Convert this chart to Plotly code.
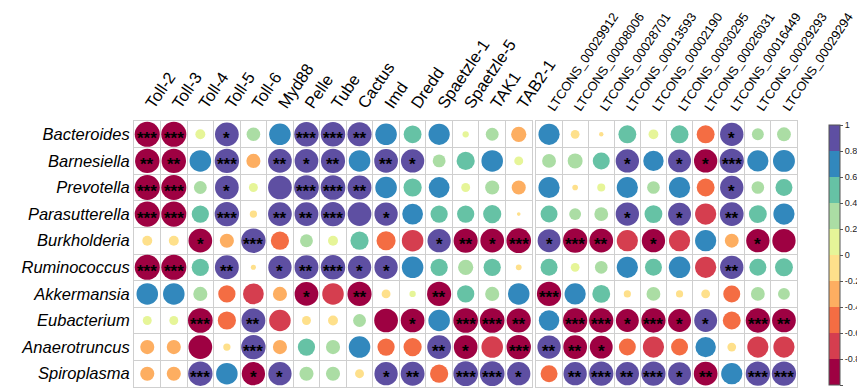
import numpy as np
import plotly.graph_objects as go

taxa = ["Bacteroides", "Barnesiella", "Prevotella", "Parasutterella", "Burkholderia",
        "Ruminococcus", "Akkermansia", "Eubacterium", "Anaerotruncus", "Spiroplasma"]
genes = ["Toll-2", "Toll-3", "Toll-4", "Toll-5", "Toll-6", "Myd88", "Pelle", "Tube",
         "Cactus", "Imd", "Dredd", "Spaetzle-1", "Spaetzle-5", "TAK1", "TAB2-1"]
lncrnas = ["LTCONS_00029912", "LTCONS_00008006", "LTCONS_00028701", "LTCONS_00013593",
           "LTCONS_00002190", "LTCONS_00030295", "LTCONS_00026031", "LTCONS_00016449",
           "LTCONS_00029293", "LTCONS_00029294"]

r_genes = [
    [-0.95, -0.95, 0.15, 0.85, 0.28, 0.70, 0.90, 0.90, 0.88, 0.70, 0.48, 0.68, 0.06, 0.25, -0.35],
    [-0.90, -0.90, 0.70, 0.90, -0.30, 0.85, 0.85, 0.88, 0.70, 0.85, 0.82, 0.25, 0.50, 0.70, 0.12],
    [-0.95, -0.95, 0.25, 0.85, 0.12, 0.85, 0.92, 0.92, 0.86, 0.70, 0.50, 0.65, 0.12, 0.30, -0.30],
    [-0.95, -0.95, 0.45, 0.90, -0.08, 0.85, 0.86, 0.90, 0.85, 0.82, 0.65, 0.45, 0.45, 0.50, -0.02],
    [-0.15, -0.15, -0.85, -0.30, 0.90, -0.50, 0.25, 0.15, 0.50, -0.55, -0.70, 0.82, -0.88, -0.85, -0.92],
    [-0.95, -0.95, 0.45, 0.86, -0.04, 0.82, 0.86, 0.90, 0.82, 0.82, 0.70, 0.45, 0.35, 0.45, -0.05],
    [0.70, 0.70, 0.30, -0.45, -0.65, -0.30, -0.85, -0.70, -0.88, -0.12, 0.06, -0.88, 0.45, 0.30, 0.70],
    [0.12, 0.12, -0.92, -0.50, 0.86, -0.70, -0.12, -0.15, 0.25, -0.85, -0.85, 0.70, -0.92, -0.92, -0.88],
    [-0.30, -0.30, -0.85, -0.08, 0.90, -0.30, 0.45, 0.30, 0.70, -0.45, -0.50, 0.86, -0.85, -0.70, -0.90],
    [-0.30, -0.30, 0.90, 0.70, -0.82, 0.82, 0.30, 0.30, -0.12, 0.82, 0.86, -0.50, 0.92, 0.92, 0.82],
]
sig_genes = [
    ["***", "***", "", "*", "", "", "***", "***", "**", "", "", "", "", "", ""],
    ["**", "**", "", "***", "", "**", "*", "**", "", "**", "*", "", "", "", ""],
    ["***", "***", "", "*", "", "", "***", "***", "**", "", "", "", "", "", ""],
    ["***", "***", "", "***", "", "**", "**", "***", "", "*", "", "", "", "", ""],
    ["", "", "*", "", "***", "", "", "", "", "", "", "*", "**", "*", "***"],
    ["***", "***", "", "**", "", "*", "**", "***", "*", "*", "", "", "", "", ""],
    ["", "", "", "", "", "", "*", "", "**", "", "", "**", "", "", ""],
    ["", "", "***", "", "**", "", "", "", "", "", "*", "", "***", "***", "**"],
    ["", "", "", "", "***", "", "", "", "", "", "", "**", "*", "", "***"],
    ["", "", "***", "", "*", "*", "", "", "", "*", "**", "", "***", "***", "*"],
]
r_lnc = [
    [0.70, -0.12, -0.03, 0.50, 0.15, 0.50, -0.50, 0.85, 0.22, 0.30],
    [0.30, 0.35, 0.45, 0.85, 0.65, 0.82, -0.85, 0.92, 0.70, 0.75],
    [0.70, -0.05, 0.10, 0.70, 0.25, 0.70, -0.50, 0.85, 0.25, 0.45],
    [0.45, 0.22, 0.30, 0.85, 0.50, 0.82, -0.70, 0.88, 0.50, 0.70],
    [0.82, -0.92, -0.88, -0.70, -0.85, -0.70, 0.70, -0.30, -0.85, -0.85],
    [0.45, 0.12, 0.25, 0.70, 0.45, 0.72, -0.70, 0.85, 0.45, 0.50],
    [-0.92, 0.70, 0.50, -0.08, 0.30, -0.08, -0.12, -0.45, 0.30, 0.22],
    [0.65, -0.92, -0.92, -0.82, -0.92, -0.82, 0.82, -0.50, -0.92, -0.88],
    [0.85, -0.88, -0.82, -0.45, -0.70, -0.45, 0.65, -0.12, -0.70, -0.70],
    [-0.45, 0.85, 0.92, 0.85, 0.92, 0.82, -0.88, 0.70, 0.92, 0.92],
]
sig_lnc = [
    ["", "", "", "", "", "", "", "*", "", ""],
    ["", "", "", "*", "", "*", "*", "***", "", ""],
    ["", "", "", "", "", "", "", "*", "", ""],
    ["", "", "", "*", "", "*", "", "**", "", ""],
    ["*", "***", "**", "", "*", "", "", "", "*", ""],
    ["", "", "", "", "", "", "", "**", "", ""],
    ["***", "", "", "", "", "", "", "", "", ""],
    ["", "***", "***", "*", "***", "*", "*", "", "***", "**"],
    ["**", "**", "*", "", "", "", "", "", "", ""],
    ["", "**", "***", "**", "***", "*", "**", "", "***", "***"],
]

spectral10 = ["#9E0142", "#D53E4F", "#F46D43", "#FDAE61", "#FEE08B",
              "#E6F598", "#ABDDA4", "#66C2A5", "#3288BD", "#5E4FA2"]
cb_ticks = [1, 0.8, 0.6, 0.4, 0.2, 0, -0.2, -0.4, -0.6, -0.8, -1]
cb_text = ["1", "0.8", "0.6", "0.4", "0.2", "0", "-0.2", "-0.4", "-0.6", "-0.8", "-1"]

colorscale = []
for i, c in enumerate(spectral10):
    colorscale.append([i / 10, c])
    colorscale.append([(i + 1) / 10, c])

# the page body adds an 8 px offset; the figure is sized so it fits the window
OFF = 8
W, H = 865 - OFF, 389 - OFF
ML, MT = 134 - OFF, 121 - OFF
MR = W - (797 - OFF)
MB = H - (387 - OFF)
plot_w = W - ML - MR
plot_h = H - MT - MB
left_px = 398
gap_px = 4
cell_y = plot_h / len(taxa)

FONT = "Liberation Sans, Arial, sans-serif"
GRID = "#cfcfcf"
STAR_FONT = dict(family="Liberation Sans, Arial", size=17, color="black", weight="bold")

fig = go.Figure()


def panel(cols, rvals, sigs, xname, yname, cell_px, show_cb):
    xs, ys, cs, ss = [], [], [], []
    for i in range(len(taxa)):
        for j in range(len(cols)):
            v = rvals[i][j]
            xs.append(j)
            ys.append(i)
            cs.append(v)
            ss.append(np.sqrt(abs(v)) * min(cell_px, cell_y) * 0.97)
            if sigs[i][j]:
                fig.add_annotation(x=j, y=i, xref=xname, yref=yname, text=sigs[i][j],
                                   showarrow=False, yshift=-4, font=STAR_FONT)
    fig.add_trace(go.Scatter(
        x=xs, y=ys, xaxis=xname, yaxis=yname, mode="markers",
        marker=dict(size=ss, color=cs, colorscale=colorscale, cmin=-1, cmax=1,
                    line=dict(width=0), opacity=1,
                    showscale=show_cb,
                    colorbar=dict(xref="container", x=(829 - OFF) / W, xanchor="left", xpad=0,
                                  yref="paper", y=1 - 4 / plot_h, yanchor="top", ypad=0,
                                  len=260, lenmode="pixels", thickness=11,
                                  outlinewidth=1, outlinecolor="#555555",
                                  tickvals=cb_ticks, ticktext=cb_text,
                                  ticks="outside", ticklen=3, tickcolor="#555555",
                                  tickfont=dict(family=FONT, size=9, color="#222222"))),
        hoverinfo="skip", showlegend=False))


panel(genes, r_genes, sig_genes, "x", "y", left_px / len(genes), False)
right_px = plot_w - left_px - gap_px
panel(lncrnas, r_lnc, sig_lnc, "x2", "y2", right_px / len(lncrnas), True)

axis_common = dict(showline=True, mirror=True, linecolor=GRID, linewidth=1,
                   showgrid=False, zeroline=False, ticks="", automargin=False)


def minor(n):
    return dict(tickmode="array", tickvals=list(np.arange(0.5, n - 0.5, 1)),
                showgrid=True, gridcolor=GRID, gridwidth=1, ticks="")


fig.update_layout(
    width=W, height=H, margin=dict(l=ML, r=MR, t=MT, b=MB, autoexpand=False),
    paper_bgcolor="white", plot_bgcolor="white",
    xaxis=dict(domain=[0, left_px / plot_w], side="top", anchor="y",
               range=[-0.5, len(genes) - 0.5], tickmode="array",
               tickvals=list(range(len(genes))), ticktext=genes, tickangle=-56,
               tickfont=dict(family=FONT, size=16.5, color="black"),
               minor=minor(len(genes)), **axis_common),
    xaxis2=dict(domain=[(left_px + gap_px) / plot_w, 1], side="top", anchor="y2",
                range=[-0.5, len(lncrnas) - 0.5], tickmode="array",
                tickvals=list(range(len(lncrnas))), ticktext=lncrnas, tickangle=-56,
                tickfont=dict(family=FONT, size=12.8, color="black"),
                minor=minor(len(lncrnas)), **axis_common),
    yaxis=dict(domain=[0, 1], anchor="x", range=[len(taxa) - 0.5, -0.5],
               tickmode="array", tickvals=list(range(len(taxa))),
               ticktext=["<i>%s</i>" % t for t in taxa],
               tickfont=dict(family=FONT, size=16.5, color="black"),
               minor=minor(len(taxa)), **axis_common),
    yaxis2=dict(domain=[0, 1], anchor="x2", matches="y", range=[len(taxa) - 0.5, -0.5],
                showticklabels=False, minor=minor(len(taxa)), **axis_common),
)

fig.write_html("out.html")
